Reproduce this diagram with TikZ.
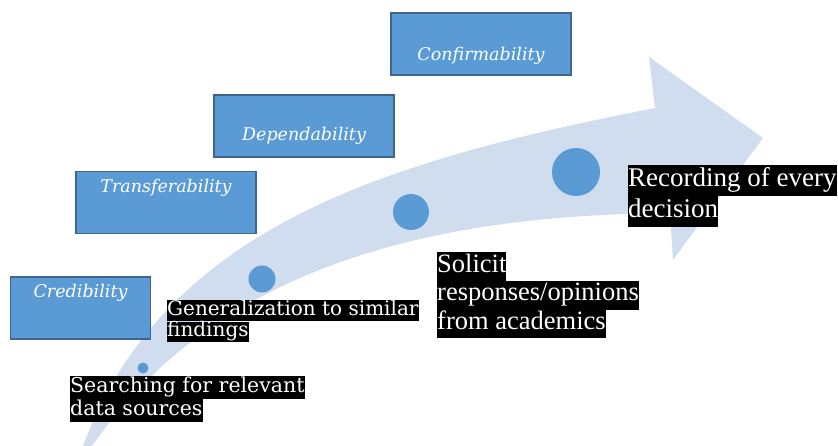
\documentclass[tikz,border=0pt]{standalone}
\usepackage{fontspec}
\setmainfont{Liberation Serif}
\newfontfamily\cambfont{DejaVu Serif}
\usepackage{tikz}
\usetikzlibrary{positioning}

\definecolor{boxblue}{RGB}{91,155,213}
\definecolor{boxedge}{RGB}{65,100,140}
\definecolor{bandblue}{RGB}{208,221,238}

\newcommand{\blk}[1]{{\setlength{\fboxsep}{0pt}\colorbox{black}{\strut #1}}}

\tikzset{
	qbox/.style={rectangle, draw=boxedge, fill=boxblue, line width=1.2pt, minimum width=180pt, minimum height=62pt, inner sep=0pt},
	qtext/.style={text=white, font={\cambfont\itshape\fontsize{17.5}{19}\selectfont}, inner sep=0pt},
	dot/.style={circle, fill=boxblue, inner sep=0pt},
	steplabel/.style={anchor=north west, inner sep=0pt, align=left, text=white},
}

\begin{document}
\begin{tikzpicture}[x=1pt, y=-1pt]

	\useasboundingbox (0,0) rectangle (838,446);
	\clip (0,0) rectangle (838,446);

	% curved arrow in the background
	\fill[bandblue] (66,480) -- (83,446)
	.. controls (165,225) and (390,160) .. (655,108)
	-- (649,57) -- (763,138) -- (673,260) -- (670,213)
	.. controls (440,215) and (220,262) .. (92,446)
	-- (74,480) -- cycle;

	% criteria boxes
	\node (cred) [qbox, minimum width=140pt] at (80.5,308) {};
	\node [qtext, below=8pt of cred.north] {Credibility};

	\node (trans) [qbox] at (166,202.5) {};
	\node [qtext, below=8pt of trans.north] {Transferability};

	\node (dep) [qbox] at (304,126) {};
	\node [qtext, above=13pt of dep.south] {Dependability};

	\node (conf) [qbox] at (481,44) {};
	\node [qtext, above=11pt of conf.south] {Confirmability};

	% dots along the arrow
	\node (d1) [dot, minimum size=11pt] at (143,368) {};
	\node (d2) [dot, minimum size=27pt] at (262,279) {};
	\node (d3) [dot, minimum size=36pt] at (411,212) {};
	\node (d4) [dot, minimum size=48pt] at (576,172) {};

	% labels
	\node (search) [steplabel, font={\cambfont\fontsize{20.5}{23}\selectfont}] at (70,376)
	{\blk{Searching for relevant}\\\blk{data sources}};

	\node (general) [steplabel, font={\cambfont\fontsize{20}{17.5}\selectfont}] at (167,300)
	{\blk{Generalization to similar}\\\blk{findings}};

	\node (solicit) [steplabel, font={\fontsize{26.5}{28.7}\selectfont}] at (437,252)
	{\blk{Solicit}\\\blk{responses/opinions}\\\blk{from academics}};

	\node (record) [steplabel, font={\fontsize{27}{31}\selectfont}] at (628,165)
	{\blk{Recording of every}\\\blk{decision}};

\end{tikzpicture}
\end{document}
